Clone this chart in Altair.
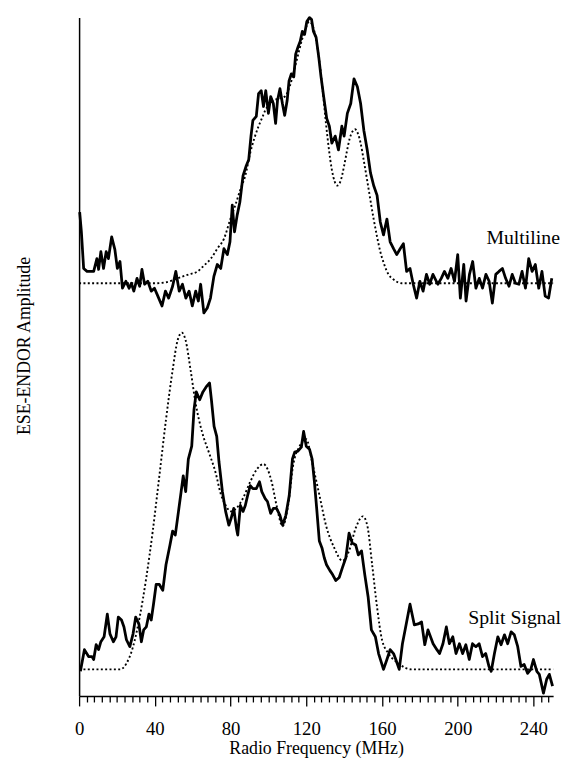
import altair as alt
import pandas as pd

# ---------------- data ----------------
# Multiline, experimental (solid)
ml_exp_freq = [0.3, 1.2, 2.4, 4.2, 7.7, 9.4, 10.3, 11.5, 12.9, 14.3,
               15.5, 17.2, 18.9, 20.2, 21.6, 22.9, 24.7, 26.4, 27.6, 28.9,
               30.6, 32.0, 33.2, 34.6, 36.3, 38.1, 39.8, 41.6, 43.8, 45.6,
               47.3, 49.4, 51.1, 52.9, 54.6, 56.4, 58.1, 59.8, 61.6, 63.0,
               64.2, 65.9, 67.7, 69.4, 71.2, 73.0, 74.8, 76.5, 78.3, 79.7,
               80.9, 82.1, 83.5, 84.9, 86.6, 88.3, 89.6, 90.8, 91.8, 93.6,
               94.8, 96.2, 97.4, 98.6, 100.0, 101.2, 102.6, 103.8, 104.8, 106.1,
               107.4, 108.6, 109.9, 110.9, 112.1, 113.4, 114.4, 115.6, 116.8, 117.9,
               119.1, 120.3, 121.7, 122.8, 123.8, 125.2, 126.6, 127.8, 129.2, 130.8,
               132.2, 133.5, 135.3, 137.0, 138.8, 140.0, 141.7, 143.5, 145.2, 147.0,
               148.7, 150.4, 152.2, 153.9, 155.6, 157.4, 159.1, 160.8, 162.6, 164.3,
               166.1, 167.8, 169.6, 171.3, 173.0, 174.8, 176.5, 178.3, 180.0, 181.7,
               183.5, 185.2, 186.9, 189.5, 191.3, 193.0, 194.8, 196.5, 198.3, 200.0,
               201.4, 203.2, 204.4, 206.2, 207.9, 209.6, 211.4, 213.1, 214.9, 216.6,
               218.3, 220.1, 221.8, 223.6, 225.3, 227.1, 228.8, 230.5, 232.3, 234.0,
               235.8, 237.5, 239.3, 241.0, 242.8, 244.5, 246.2, 248.0, 249.7]
ml_exp_amp = [490, 470, 433, 430, 430, 443, 432, 450, 433, 450,
              443, 465, 452, 433, 440, 413, 420, 413, 418, 410,
              423, 415, 432, 417, 420, 410, 413, 405, 395, 410,
              403, 415, 430, 410, 417, 403, 410, 395, 410, 400,
              417, 388, 393, 403, 425, 437, 433, 453, 447, 460,
              497, 470, 487, 500, 527, 537, 543, 567, 583, 587,
              610, 613, 597, 613, 590, 607, 600, 580, 603, 615,
              600, 588, 603, 623, 630, 627, 650, 657, 663, 673,
              670, 683, 687, 685, 673, 667, 647, 627, 607, 585,
              577, 560, 567, 553, 577, 567, 590, 600, 625, 617,
              600, 573, 553, 530, 517, 507, 480, 467, 483, 460,
              453, 447, 453, 458, 430, 433, 417, 403, 420, 410,
              427, 417, 427, 417, 423, 430, 423, 433, 420, 447,
              403, 437, 400, 427, 440, 413, 423, 413, 427, 420,
              398, 427, 430, 433, 423, 415, 427, 418, 417, 430,
              413, 443, 430, 437, 413, 430, 405, 403, 423]

# Multiline, simulation (dotted)
ml_sim_freq = [0, 40, 46, 52, 58, 62.6, 66, 69.6, 73, 76.5,
               79.9, 82.5, 85.2, 87.8, 90.4, 92.6, 94.8, 97, 98.3, 100.5,
               102.6, 105.5, 108.6, 111.2, 113.5, 115.5, 117.5, 119.5, 121.6, 123.5,
               125.2, 126.9, 128.7, 130.4, 132.0, 133.5, 135.0, 136.5, 138.2, 140.0,
               141.5, 143.0, 144.5, 145.7, 147.2, 148.7, 150.4, 152.1, 153.9, 155.6,
               157.4, 159.1, 161.0, 163.4, 166.0, 170.4, 250.4]
ml_sim_amp = [418, 418, 419, 423, 427, 430, 436, 443, 453, 463,
              483, 497, 513, 527, 550, 565, 577, 587, 593, 599,
              603, 605, 607, 617, 633, 648, 663, 675, 683, 678,
              665, 643, 613, 580, 553, 533, 521, 517, 522, 537,
              552, 565, 572, 574, 570, 560, 542, 523, 502, 483,
              465, 450, 438, 427, 422, 418, 418]

# Split Signal, experimental (solid)
ss_exp_freq = [0.7, 2.8, 5.0, 6.8, 7.7, 9.0, 10.3, 11.5, 13.2, 14.9,
               16.3, 18.1, 19.5, 20.7, 22.4, 23.7, 25.0, 26.8, 28.5, 29.9,
               31.6, 32.9, 34.1, 35.5, 36.9, 38.1, 39.3, 40.7, 42.4, 44.2,
               45.9, 48.0, 49.4, 50.8, 52.5, 53.9, 55.0, 56.3, 57.7, 59.5,
               60.7, 61.9, 63.7, 65.4, 67.1, 68.9, 69.9, 71.3, 72.7, 73.9,
               75.7, 77.4, 79.1, 80.3, 81.7, 83.1, 83.8, 85.2, 86.6, 87.8,
               89.0, 90.4, 91.8, 93.6, 95.3, 96.5, 98.3, 99.5, 101.2, 102.6,
               104.3, 106.1, 107.5, 109.2, 111.0, 112.7, 113.9, 115.6, 117.4, 118.6,
               120.0, 121.7, 123.1, 124.3, 125.5, 126.9, 128.3, 129.5, 130.7, 132.5,
               133.9, 135.6, 137.4, 139.1, 140.9, 142.6, 144.3, 146.1, 147.5, 149.2,
               150.9, 152.7, 154.4, 156.5, 158.2, 160.8, 162.6, 164.3, 166.1, 167.3,
               169.1, 170.8, 172.2, 174.8, 177.1, 179.1, 180.9, 182.6, 184.3, 187.0,
               189.0, 190.4, 192.2, 194.0, 195.6, 197.4, 199.1, 200.9, 202.6, 204.3,
               206.1, 207.8, 209.6, 211.3, 213.1, 214.8, 216.5, 217.7, 219.4, 221.2,
               222.9, 224.7, 226.4, 228.2, 229.9, 231.7, 233.4, 235.1, 236.9, 238.6,
               240.0, 241.8, 243.1, 245.3, 247.0, 248.4, 250.1]
ss_exp_amp = [25, 47, 40, 40, 37, 52, 47, 55, 60, 83,
              63, 55, 60, 80, 77, 70, 57, 50, 63, 80,
              73, 55, 67, 70, 83, 77, 93, 113, 113, 107,
              133, 153, 167, 163, 187, 207, 223, 207, 240, 253,
              290, 308, 300, 308, 313, 317, 300, 273, 263, 237,
              207, 187, 173, 180, 190, 170, 163, 193, 187, 193,
              203, 213, 210, 210, 217, 207, 200, 197, 185, 190,
              190, 183, 173, 183, 203, 240, 247, 248, 252, 268,
              253, 250, 240, 217, 190, 157, 150, 140, 133, 127,
              123, 117, 120, 130, 140, 165, 155, 153, 143, 147,
              123, 100, 67, 60, 43, 27, 37, 47, 43, 37,
              27, 53, 67, 93, 72, 73, 75, 52, 67, 53,
              47, 43, 53, 70, 53, 60, 43, 53, 43, 52,
              37, 53, 50, 53, 40, 43, 30, 25, 43, 60,
              52, 62, 53, 65, 62, 50, 30, 32, 23, 27,
              37, 25, 22, 3, 17, 22, 10]

# Split Signal, simulation (dotted)
ss_sim_freq = [0, 21.6, 25.0, 28.5, 32.0, 35.5, 38.9, 42.4, 45.9, 49.4,
               52.0, 54.3, 56.3, 58.9, 61.5, 65.0, 68.5, 72.0, 74.8, 77.5,
               80.0, 83.0, 86.5, 90.4, 94.0, 97.4, 99.5, 101.7, 104.3, 107.5,
               110.4, 113.0, 116.5, 120.0, 123.5, 127.0, 130.4, 134.8, 139.1, 142.6,
               146.1, 149.9, 152.2, 154.8, 157.4, 160.0, 163.5, 168.7, 175.6, 250.4]
ss_sim_amp = [27, 27, 33, 50, 80, 120, 167, 223, 280, 330,
              360, 368, 360, 330, 297, 267, 247, 227, 205, 193,
              187, 190, 200, 217, 230, 235, 230, 217, 193, 172,
              193, 233, 253, 260, 233, 203, 173, 150, 137, 147,
              170, 182, 173, 133, 90, 57, 43, 33, 27, 27]

# Trace labels
label_text = ["Multiline", "Split Signal"]
label_freq = [254.0, 254.5]
label_amp = [458, 73]

# Axis ticks: minor every 4 MHz, labelled every 40 MHz
x_tick_values = list(range(0, 249, 4))
x_label_values = [0, 40, 80, 120, 160, 200, 240]
x_domain = [0, 250.4]
y_domain = [0, 687]

# ---------------- build tables ----------------
def frame(freqs, amps, name):
    return pd.DataFrame({"freq": freqs, "amp": amps, "trace": name})

exp_df = pd.concat([frame(ml_exp_freq, ml_exp_amp, "Multiline"),
                    frame(ss_exp_freq, ss_exp_amp, "Split Signal")])
sim_df = pd.concat([frame(ml_sim_freq, ml_sim_amp, "Multiline"),
                    frame(ss_sim_freq, ss_sim_amp, "Split Signal")])
lab_df = pd.DataFrame({"freq": label_freq, "amp": label_amp, "text": label_text})

FONT = "Liberation Serif"
label_test = "indexof([" + ",".join(str(v) for v in x_label_values) + "], datum.value) >= 0"

x_axis = alt.Axis(values=x_tick_values,
                  labelExpr="(" + label_test + ") ? datum.label : ''",
                  tickSize={"condition": {"test": label_test, "value": 10}, "value": 6},
                  title="Radio Frequency (MHz)",
                  grid=False, labelFlush=False, labelOverlap=False,
                  domainColor="black", domainWidth=1.5,
                  tickColor="black", tickWidth=1.3,
                  labelFont=FONT, labelFontSize=19, labelColor="black",
                  labelPadding=14,
                  titleFont=FONT, titleFontSize=18, titleColor="black",
                  titleFontWeight="normal", titlePadding=1)
y_axis = alt.Axis(ticks=False, labels=False, grid=False,
                  domainColor="black", domainWidth=1.5,
                  title="ESE-ENDOR Amplitude",
                  titleFont=FONT, titleFontSize=18, titleColor="black",
                  titleFontWeight="normal", titlePadding=46, titleY=332)
x_scale = alt.Scale(domain=x_domain, nice=False, zero=False)
y_scale = alt.Scale(domain=y_domain, nice=False, zero=False)

def xe():
    return alt.X("freq:Q", scale=x_scale, axis=x_axis)

def ye():
    return alt.Y("amp:Q", scale=y_scale, axis=y_axis)

exp_layer = alt.Chart(exp_df).mark_line(color="black", strokeWidth=2.8,
                                         strokeJoin="round").encode(
    x=xe(), y=ye(), detail="trace:N")
sim_layer = alt.Chart(sim_df).mark_line(color="black", strokeWidth=1.9,
                                         strokeDash=[2, 2.4],
                                         interpolate="monotone").encode(
    x=xe(), y=ye(), detail="trace:N")
lab_layer = alt.Chart(lab_df).mark_text(align="right", baseline="alphabetic",
                                        font=FONT, fontSize=20, color="black").encode(
    x=xe(), y=ye(), text="text:N")

chart = alt.layer(exp_layer, sim_layer, lab_layer).properties(
    width=480, height=687,
    autosize=alt.AutoSizeParams(type="none"),
    padding={"left": 72, "top": 5, "right": 10, "bottom": 58},
).configure_view(stroke=None)

chart.save("out.html", embed_options={"renderer": "svg", "actions": False})
